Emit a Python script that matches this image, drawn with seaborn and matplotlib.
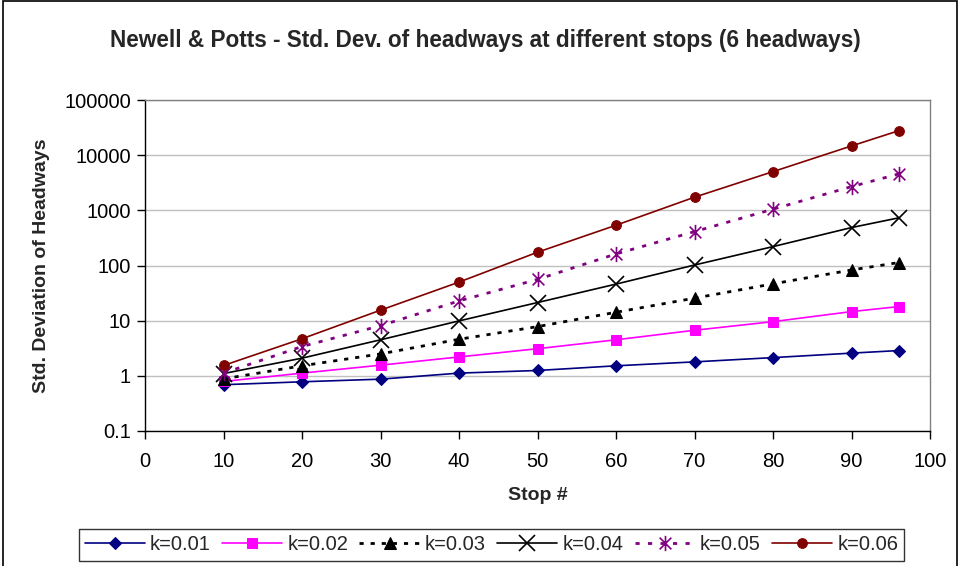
import numpy as np
import pandas as pd
import matplotlib
matplotlib.use("Agg")
import matplotlib.pyplot as plt
from matplotlib.path import Path
from matplotlib.patches import Rectangle
import seaborn as sns

# Stops where the standard deviation was evaluated
stops = [10, 20, 30, 40, 50, 60, 70, 80, 90, 96]

# Std. deviation of headways for each value of k
sd_k001 = [0.69, 0.78, 0.87, 1.12, 1.25, 1.52, 1.79, 2.14, 2.58, 2.87]
sd_k002 = [0.79, 1.12, 1.56, 2.2, 3.1, 4.5, 6.7, 9.6, 14.6, 18.0]
sd_k003 = [0.88, 1.52, 2.5, 4.6, 7.8, 14.2, 25.6, 46.5, 83, 113]
sd_k004 = [1.1, 2.09, 4.5, 9.9, 21.3, 46, 102, 220, 487, 730]
sd_k005 = [1.12, 3.4, 8.1, 22.8, 56, 162, 411, 1050, 2690, 4560]
sd_k006 = [1.54, 4.7, 15.5, 50, 174, 537, 1730, 5030, 14700, 27700]

series_labels = ["k=0.01", "k=0.02", "k=0.03", "k=0.04", "k=0.05", "k=0.06"]
series_values = [sd_k001, sd_k002, sd_k003, sd_k004, sd_k005, sd_k006]

x_ticks = [0, 10, 20, 30, 40, 50, 60, 70, 80, 90, 100]
y_ticks = [0.1, 1, 10, 100, 1000, 10000, 100000]
y_tick_labels = ["0.1", "1", "10", "100", "1000", "10000", "100000"]

sns.set_theme(style="white")
plt.rcParams["font.family"] = ["Liberation Sans", "DejaVu Sans"]

# Asterisk marker: an x crossed by a vertical bar
star_marker = Path(
    [(-1, -1), (1, 1), (-1, 1), (1, -1), (0, -1.3), (0, 1.3)],
    [Path.MOVETO, Path.LINETO, Path.MOVETO, Path.LINETO, Path.MOVETO, Path.LINETO],
)

styles = [
    dict(color="#000080", marker="D", markersize=6, linestyle="-", linewidth=1.2),
    dict(color="#FF00FF", marker="s", markersize=7, linestyle="-", linewidth=1.2),
    dict(color="#000000", marker="^", markersize=8, linestyle=(0, (1.5, 2.5)), linewidth=2.0),
    dict(color="#000000", marker="x", markersize=12, markeredgewidth=1.2, linestyle="-", linewidth=1.2),
    dict(color="#800080", marker=star_marker, markersize=11, markeredgewidth=1.2,
         linestyle=(0, (1.5, 3)), linewidth=2.0),
    dict(color="#800000", marker="o", markersize=7, linestyle="-", linewidth=1.2),
]

fig = plt.figure(figsize=(9.6, 5.66), dpi=100)
ax = fig.add_axes([145 / 960, 1 - 431 / 566, 785 / 960, 331 / 566])

for label, values, st in zip(series_labels, series_values, styles):
    df = pd.DataFrame({"stop": stops, "sd": values})
    sns.lineplot(data=df, x="stop", y="sd", ax=ax, label=label,
                 markeredgecolor=st["color"], **st)

ax.set_yscale("log")
ax.set_xlim(0, 100)
ax.set_ylim(0.1, 100000)
ax.set_xticks(x_ticks)
ax.set_xticklabels([str(t) for t in x_ticks])
ax.set_yticks(y_ticks)
ax.set_yticklabels(y_tick_labels)
ax.minorticks_off()
ax.tick_params(axis="both", which="major", direction="out", length=6, width=1,
               color="black", labelsize=14.5, labelcolor="black", pad=4)
ax.tick_params(axis="x", pad=9)
ax.xaxis.set_ticks_position("bottom")
ax.yaxis.set_ticks_position("left")

ax.grid(axis="y", color="#c0c0c0", linewidth=1)
ax.set_axisbelow(True)
for side in ["top", "right"]:
    ax.spines[side].set_color("#808080")
    ax.spines[side].set_linewidth(1)
for side in ["left", "bottom"]:
    ax.spines[side].set_color("black")
    ax.spines[side].set_linewidth(1)

ax.set_xlabel("Stop #", fontsize=14, fontweight="bold", labelpad=12)
ax.set_ylabel("Std. Deviation of Headways", fontsize=14, fontweight="bold", labelpad=10)
fig.text(0.506, 1 - 40 / 566, "Newell & Potts - Std. Dev. of headways at different stops (6 headways)",
         ha="center", va="center", fontsize=16.3, fontweight="bold")

leg = ax.legend(loc="center", bbox_to_anchor=(491.5 / 960, 1 - 545 / 566),
                bbox_transform=fig.transFigure, ncol=6, frameon=True, fancybox=False,
                fontsize=14.5, handlelength=3.0, handletextpad=0.25, columnspacing=0.55,
                borderpad=0.3, borderaxespad=0)
leg.get_frame().set_edgecolor("black")
leg.get_frame().set_linewidth(1)

# Chart area border
fig.patches.append(Rectangle((3 / 960, -0.05), 954 / 960, 1.05 - 1.5 / 566,
                             transform=fig.transFigure, fill=False,
                             edgecolor="black", linewidth=1.2))

fig.savefig("out.png", dpi=100, facecolor="white")
